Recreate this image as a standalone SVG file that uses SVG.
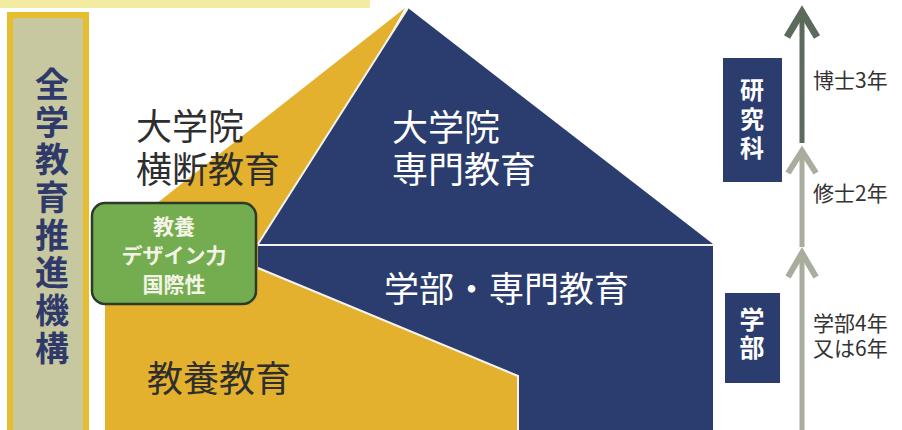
<svg xmlns="http://www.w3.org/2000/svg" width="902" height="430" viewBox="0 0 902 430">
  <style>
    .jp { font-family: "Noto Sans CJK JP", "Noto Sans", sans-serif; }
    .dark { fill: #2e2e2e; }
    .white { fill: #ffffff; }
    .big { font-size: 36px; }
    .navy { fill: #2b3d6e; }
    .yellow { fill: #e3b12e; }
    .sep { stroke: #f4f4ee; stroke-width: 2; fill: none; }
    .lbl { font-size: 21px; fill: #333333; }
    .vert { writing-mode: vertical-rl; font-weight: 700; }
  </style>
  <rect width="902" height="430" fill="#ffffff"/>
  <rect x="0" y="0" width="370" height="8" fill="#f0e27a" opacity="0.7"/>

  <g id="left-bar">
    <rect x="10" y="15" width="76" height="420" fill="#c7c89f" stroke="#e6bd2e" stroke-width="6"/>
    <text class="jp vert" x="52" y="67" font-size="34" letter-spacing="3.7" fill="#2f3a6b">全学教育推進機構</text>
  </g>

  <g id="liberal-arts">
    <polygon class="yellow" points="405,8 105,244 105,430 518,430 518,376 258,268"/>
    <text class="jp dark big" x="147" y="392">教養教育</text>
  </g>

  <g id="grad-cross">
    <text class="jp dark big" x="136" y="140">大学院<tspan x="136" dy="43">横断教育</tspan></text>
  </g>

  <g id="grad-special">
    <polygon class="navy" points="408,8 258,244 713,244"/>
    <text class="jp white big" x="392" y="141">大学院<tspan x="392" dy="42">専門教育</tspan></text>
  </g>

  <g id="undergrad">
    <polygon class="navy" points="258,246 713,246 713,430 518,430 518,376 258,268"/>
    <text class="jp white" font-size="35" x="384" y="302">学部・専門教育</text>
  </g>

  <g id="separators">
    <line class="sep" x1="258" y1="244" x2="408" y2="8"/>
    <line class="sep" x1="258" y1="245" x2="713" y2="245"/>
    <polyline class="sep" points="258,268 518,376 518,430"/>
  </g>

  <g id="competency">
    <rect x="92" y="203" width="164" height="101" rx="13" fill="#73ad4f" stroke="#2b3a2b" stroke-width="2.5"/>
    <text class="jp" font-size="21" font-weight="700" fill="#f3f3e6" text-anchor="middle" x="174" y="234">教養<tspan x="174" dy="29">デザイン力</tspan><tspan x="174" dy="29">国際性</tspan></text>
  </g>

  <g id="grad-school">
    <rect x="723" y="58" width="59" height="124" fill="#2b3d6e"/>
    <text class="jp vert white" x="752" y="78" font-size="24" letter-spacing="5">研究科</text>
  </g>

  <g id="faculty">
    <rect x="725" y="293" width="55" height="90" fill="#2b3d6e"/>
    <text class="jp vert white" x="752" y="307" font-size="25" letter-spacing="3">学部</text>
  </g>

  <g id="connectors" fill="none" stroke-linecap="butt">
    <line x1="802" y1="430" x2="802" y2="253" stroke="#a9ad9d" stroke-width="5"/>
    <polyline points="788,277 802,253 816,277" stroke="#a9ad9d" stroke-width="6"/>
    <line x1="802" y1="247" x2="802" y2="151" stroke="#a9ad9d" stroke-width="5"/>
    <polyline points="788,173 802,151 816,173" stroke="#a9ad9d" stroke-width="6"/>
    <line x1="802" y1="143" x2="802" y2="12" stroke="#5b6a5c" stroke-width="5"/>
    <polyline points="787,37 802,12 817,37" stroke="#5b6a5c" stroke-width="7"/>
  </g>

  <g id="labels" class="jp">
    <text class="lbl" x="813" y="88">博士3年</text>
    <text class="lbl" x="813" y="201">修士2年</text>
    <text class="lbl" x="813" y="331">学部4年<tspan x="813" dy="25">又は6年</tspan></text>
  </g>
</svg>
